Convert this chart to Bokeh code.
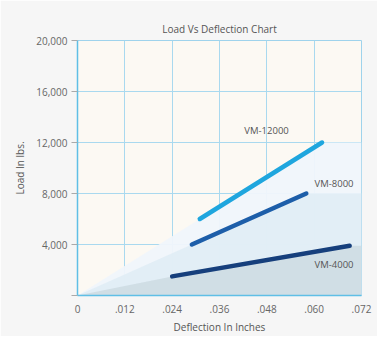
from bokeh.plotting import figure
from bokeh.models import FixedTicker, Label, CustomJSTickFormatter
from bokeh.embed import file_html
from bokeh.resources import INLINE

# Data
series_names = ["VM-12000", "VM-8000", "VM-4000"]
x_start = [0.031, 0.029, 0.024]
x_end = [0.062, 0.058, 0.069]
y_start = [6000, 4000, 1500]
y_end = [12000, 8000, 3900]
colors = ["#1fa6de", "#1d5ea9", "#163f7c"]
label_x = [0.0423, 0.0601, 0.0601]
label_y = [12940, 8780, 2430]
x_ticks = [0, 0.012, 0.024, 0.036, 0.048, 0.060, 0.072]
x_tick_labels = ["0", ".012", ".024", ".036", ".048", ".060", ".072"]
y_ticks = [0, 4000, 8000, 12000, 16000, 20000]

FONT = "Open Sans"

p = figure(width=377, height=331, x_range=(0, 0.072), y_range=(0, 20000),
           output_backend="svg", toolbar_location=None,
           min_border_left=77, min_border_right=16, min_border_top=40, min_border_bottom=36,
           frame_width=284, frame_height=255)
p.border_fill_color = "#f6f6f6"
p.background_fill_color = "#fcf9f3"
p.outline_line_color = "#9fd3ec"

# title
p.title.text = "Load Vs Deflection Chart"
p.title.align = "center"
p.title.text_font = FONT
p.title.text_font_size = "10px"
p.title.text_font_style = "normal"
p.title.text_color = "#555555"
p.title.standoff = 10

# shaded wedges
wedge_fills = ["#f0f6fb", "#e0edf6", "#cfdce4"]
for xs, xe, ys, ye, fc in zip(x_start, x_end, y_start, y_end, wedge_fills):
    p.patch([0, xs, xe, 0.072, 0.072], [0, ys, ye, ye, 0], fill_color=fc,
            line_color=None, fill_alpha=0.95)

# grid
p.xgrid.ticker = FixedTicker(ticks=x_ticks)
p.ygrid.ticker = FixedTicker(ticks=y_ticks)
p.grid.grid_line_color = "#a9d9ef"
p.grid.grid_line_width = 1

# lines
for xs, xe, ys, ye, c in zip(x_start, x_end, y_start, y_end, colors):
    p.line([xs, xe], [ys, ye], line_color=c, line_width=4.5, line_cap="round")

for name, lx, ly in zip(series_names, label_x, label_y):
    p.add_layout(Label(x=lx, y=ly, text=name, text_font=FONT, text_font_size="9.5px",
                       text_color="#555555", text_baseline="middle", text_align="left"))

# axes
p.xaxis.ticker = FixedTicker(ticks=x_ticks)
p.xaxis.major_label_overrides = {t: l for t, l in zip(x_ticks, x_tick_labels)}
p.yaxis.ticker = FixedTicker(ticks=y_ticks)
p.yaxis.formatter = CustomJSTickFormatter(code="return tick == 0 ? '' : tick.toLocaleString('en-US');")
p.xaxis.axis_label = "Deflection In Inches"
p.yaxis.axis_label = "Load In lbs."
for ax in (p.xaxis[0], p.yaxis[0]):
    ax.axis_line_color = "#5fbfe6"
    ax.axis_line_width = 1.5
    ax.major_tick_line_color = "#aaaaaa"
    ax.minor_tick_line_color = None
    ax.major_label_text_font = FONT
    ax.major_label_text_font_size = "10px"
    ax.major_label_text_color = "#666666"
    ax.axis_label_text_font = FONT
    ax.axis_label_text_font_size = "10px"
    ax.axis_label_text_font_style = "normal"
    ax.axis_label_text_color = "#555555"
p.xaxis.major_tick_in = 0
p.xaxis.major_tick_out = 0
p.xaxis.major_label_standoff = 9
p.xaxis.axis_label_standoff = 4
p.yaxis.major_tick_in = 0
p.yaxis.major_tick_out = 6
p.yaxis.major_label_standoff = 4
p.yaxis.axis_label_standoff = 6

open("out.html", "w").write(file_html(p, INLINE))
